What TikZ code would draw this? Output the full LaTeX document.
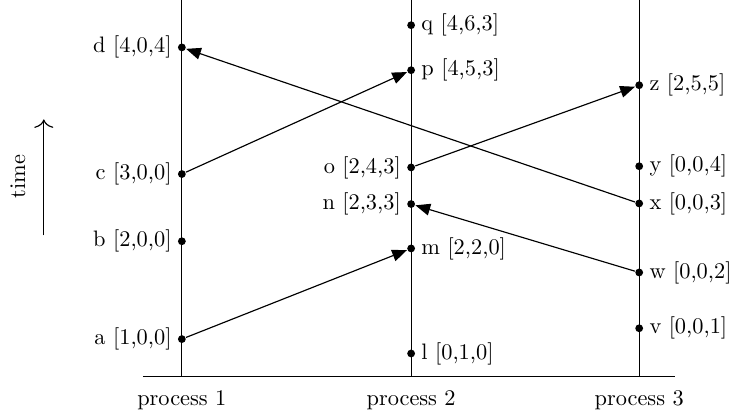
\documentclass[tikz,border=0pt]{standalone}
\usetikzlibrary{arrows.meta}
\begin{document}
\begin{tikzpicture}[font=\fontsize{10.6}{12.7}\selectfont,line width=0.55pt,
  dot/.style={circle,fill,inner sep=0pt,minimum size=0.13cm},
  msg/.style={-{Triangle[length=7pt,width=5.6pt]}},
  every label/.style={inner sep=2.5pt}]
\useasboundingbox (0,0) rectangle (12.28,6.97);
\draw (2.38,0.70) -- (11.25,0.70);
\draw (3.03,0.70) -- (3.03,6.97);
\draw (6.85,0.70) -- (6.85,6.97);
\draw (10.65,0.70) -- (10.65,6.97);
\node[anchor=base] (p1) at (3.03,0.22) {process 1};
\node[anchor=base] (p2) at (6.85,0.22) {process 2};
\node[anchor=base] (p3) at (10.65,0.22) {process 3};
\node[dot,label={left:{d [4,0,4]}}] (d) at (3.03,6.18) {};
\node[dot,label={left:{c [3,0,0]}}] (c) at (3.03,4.07) {};
\node[dot,label={left:{b [2,0,0]}}] (b) at (3.03,2.95) {};
\node[dot,label={left:{a [1,0,0]}}] (a) at (3.03,1.32) {};
\node[dot,label={right:{q [4,6,3]}}] (q) at (6.85,6.55) {};
\node[dot,label={right:{p [4,5,3]}}] (p) at (6.85,5.80) {};
\node[dot,label={left:{o [2,4,3]}}] (o) at (6.85,4.18) {};
\node[dot,label={left:{n [2,3,3]}}] (n) at (6.85,3.57) {};
\node[dot,label={right:{m [2,2,0]}}] (m) at (6.85,2.83) {};
\node[dot,label={right:{l [0,1,0]}}] (l) at (6.85,1.08) {};
\node[dot,label={right:{z [2,5,5]}}] (z) at (10.65,5.55) {};
\node[dot,label={right:{y [0,0,4]}}] (y) at (10.65,4.20) {};
\node[dot,label={right:{x [0,0,3]}}] (x) at (10.65,3.58) {};
\node[dot,label={right:{w [0,0,2]}}] (w) at (10.65,2.43) {};
\node[dot,label={right:{v [0,0,1]}}] (v) at (10.65,1.50) {};
\draw[msg] (a) -- (m);
\draw[msg] (c) -- (p);
\draw[msg] (o) -- (z);
\draw[msg] (w) -- (n);
\draw[msg] (x) -- (d);
\coordinate (t0) at (0.73,3.05);
\coordinate (t1) at (0.73,4.98);
\draw[-{To[length=4pt,width=9pt]}] (t0) -- (t1);
\node[rotate=90] (time) at (0.30,4.03) {time};
\end{tikzpicture}
\end{document}
